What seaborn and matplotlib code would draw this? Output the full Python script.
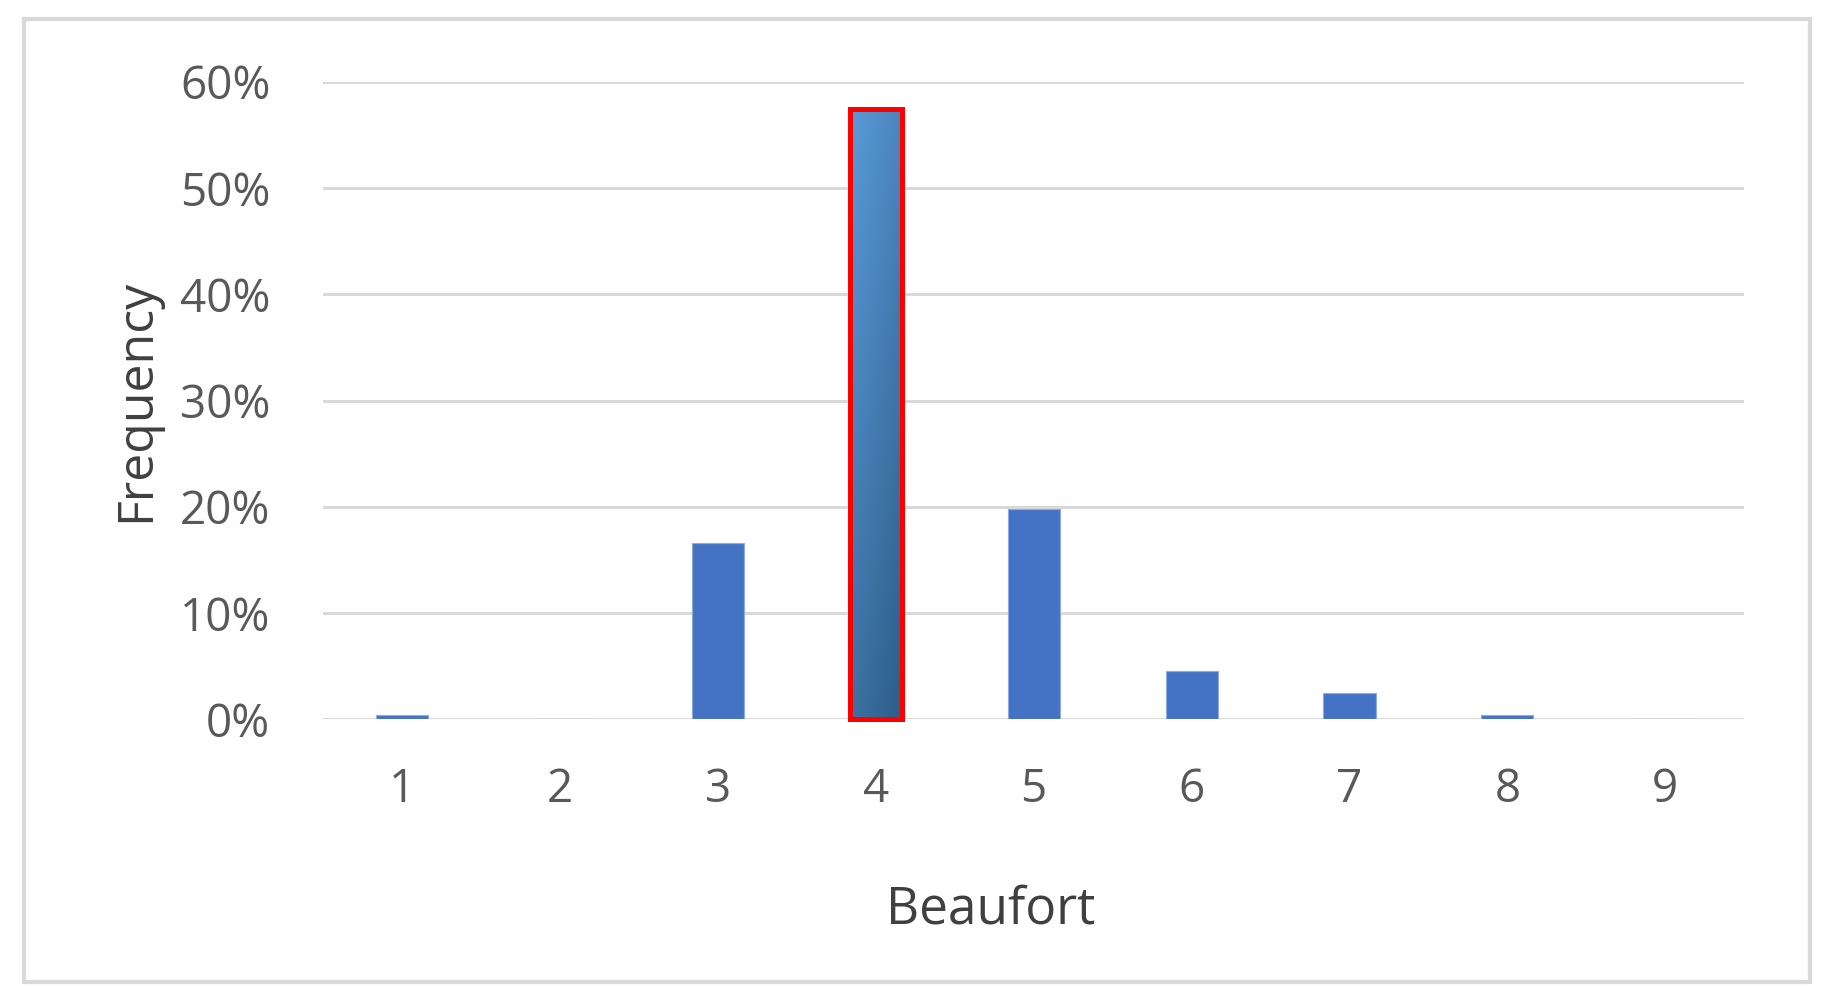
import numpy as np
import pandas as pd
import matplotlib
matplotlib.use("Agg")
import matplotlib.pyplot as plt
import seaborn as sns
from matplotlib.patches import Rectangle
from matplotlib.ticker import PercentFormatter
from matplotlib.colors import LinearSegmentedColormap

# data
beaufort = ["1", "2", "3", "4", "5", "6", "7", "8", "9"]
frequency = [0.0045, 0.0, 0.166, 0.575, 0.198, 0.045, 0.025, 0.0045, 0.0]
highlight = "4"

sns.set_style("white")
plt.rcParams["font.family"] = ["Open Sans", "DejaVu Sans"]

df = pd.DataFrame({"Beaufort": beaufort, "Frequency": frequency})

fig = plt.figure(figsize=(18.36, 10.06), dpi=100)
ax = fig.add_axes([0.176, 0.285, 0.774, 0.6335])

sns.barplot(data=df, x="Beaufort", y="Frequency", color="#4472C4",
            saturation=1, width=0.33, ax=ax, zorder=3)

text_col = "#595959"
for i, p in enumerate(ax.patches):
    p.set_edgecolor("#8FAADC")
    p.set_linewidth(0.8)
    if beaufort[i] == highlight:
        # gradient fill clipped to the bar (light top-left, dark bottom-right)
        x0, w, h = p.get_x(), p.get_width(), p.get_height()
        gx, gy = np.meshgrid(np.linspace(0, 1, 60), np.linspace(0, 1, 300))
        grad = 0.35 * (1 - gx) + 0.65 * gy
        cmap = LinearSegmentedColormap.from_list("g", ["#2D5C88", "#5A9BD8"])
        im = ax.imshow(grad, cmap=cmap, extent=[x0, x0 + w, 0, h],
                       origin="lower", aspect="auto", zorder=4)
        im.set_clip_path(p)
        ax.add_patch(Rectangle((x0, 0), w, h, fill=False, edgecolor="#FF0000",
                               linewidth=3.6, zorder=5, clip_on=False))

ax.set_xlim(-0.5, 8.5)
ax.set_ylim(0, 0.6)
ax.set_yticks(np.arange(0, 0.61, 0.1))
ax.yaxis.set_major_formatter(PercentFormatter(1.0, decimals=0))
ax.grid(axis="y", color="#D9D9D9", linewidth=2.2, zorder=0)
ax.set_axisbelow(True)
sns.despine(ax=ax, left=True, bottom=True, top=True, right=True)

ax.tick_params(axis="both", length=0, labelsize=33, labelcolor=text_col)
ax.tick_params(axis="y", pad=38)
ax.tick_params(axis="x", pad=34)
ax.set_xlabel("Beaufort", fontsize=37, color="#404040")
ax.set_ylabel("Frequency", fontsize=36, color="#404040")
ax.xaxis.set_label_coords(0.47, -0.26)
ax.yaxis.set_label_coords(-0.114, 0.5)

# outer chart border
fig.patches.append(Rectangle((24 / 1836, 1 - 982 / 1006), (1810 - 24) / 1836,
                             (982 - 19) / 1006, transform=fig.transFigure,
                             fill=False, edgecolor="#D9D9D9", linewidth=3))

fig.savefig("out.png", dpi=100)
